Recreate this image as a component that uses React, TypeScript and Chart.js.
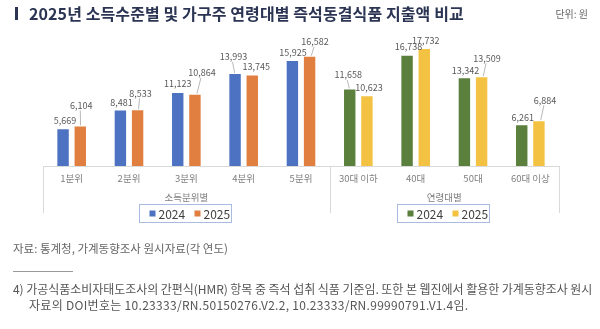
import React, { useEffect, useRef } from "react";
import { Chart, registerables } from "chart.js";

Chart.register(...registerables);

const categories = ["1분위", "2분위", "3분위", "4분위", "5분위", "30대 이하", "40대", "50대", "60대 이상"];
const groupNames = ["소득분위별", "연령대별"];
const groupSizes = [5, 4];
const seriesNames = ["2024", "2025"];
const values2024 = [5669, 8481, 11123, 13993, 15925, 11658, 16738, 13342, 6261];
const values2025 = [6104, 8533, 10864, 13745, 16582, 10623, 17732, 13509, 6884];

// label offsets (dx, dy) relative to bar top center, and whether a leader line is drawn
const labelOff2024: [number, number, boolean][] = [
  [2, -8, false], [1, -7, false], [0, -8, false], [-1.5, -16, true], [0.5, -7.5, false],
  [-1.5, -13.5, true], [1.5, -8, false], [1, -7, false], [1, -7, false],
];
const labelOff2025: [number, number, boolean][] = [
  [1, -20, true], [3, -16, true], [7, -21, true], [4, -8, false], [5.5, -14, true],
  [2, -8, false], [1.5, -8, false], [5.5, -18, true], [6, -20, true],
];

const groupColors = [
  ["#4C72C1", "#E07F3F"],
  ["#5B803D", "#F3C242"],
];

const FONT = '"Noto Sans CJK KR", "Noto Sans", sans-serif';

function colorFor(series: number) {
  return (ctx: any) => {
    const i = ctx.dataIndex ?? 0;
    return i < groupSizes[0] ? groupColors[0][series] : groupColors[1][series];
  };
}

const overlayPlugin = {
  id: "overlay",
  afterDatasetsDraw(chart: any) {
    const { ctx, chartArea, scales } = chart;
    const x = scales.x;
    const bottom = chartArea.bottom;
    const n = categories.length;
    const step = x.getPixelForValue(1) - x.getPixelForValue(0);
    const edges: number[] = [];
    let idx = 0;
    edges.push(x.getPixelForValue(0) - step / 2);
    groupSizes.forEach((s) => {
      idx += s;
      edges.push(x.getPixelForValue(idx - 1) + step / 2);
    });
    ctx.save();
    // baseline
    ctx.strokeStyle = "#d9d9d9";
    ctx.lineWidth = 1;
    ctx.beginPath();
    ctx.moveTo(edges[0], Math.round(bottom) + 0.5);
    ctx.lineTo(edges[edges.length - 1], Math.round(bottom) + 0.5);
    ctx.stroke();
    // separators
    edges.forEach((e) => {
      ctx.beginPath();
      ctx.moveTo(Math.round(e) + 0.5, bottom);
      ctx.lineTo(Math.round(e) + 0.5, bottom + 47);
      ctx.stroke();
    });
    // category labels
    ctx.fillStyle = "#7f7f7f";
    ctx.font = `9.5px ${FONT}`;
    ctx.textAlign = "center";
    ctx.textBaseline = "middle";
    for (let i = 0; i < n; i++) {
      ctx.fillText(categories[i], x.getPixelForValue(i), bottom + 12);
    }
    // group labels
    for (let g = 0; g < groupNames.length; g++) {
      const cx = (edges[g] + edges[g + 1]) / 2;
      ctx.fillText(groupNames[g], cx, bottom + 31);
    }
    // data labels
    ctx.font = `9px ${FONT}`;
    const sets = [values2024, values2025];
    const offs = [labelOff2024, labelOff2025];
    for (let d = 0; d < 2; d++) {
      const meta = chart.getDatasetMeta(d);
      meta.data.forEach((bar: any, i: number) => {
        const [dx, dy, leader] = offs[d][i];
        const lx = bar.x + dx;
        const ly = bar.y + dy;
        const text = sets[d][i].toLocaleString("en-US");
        ctx.fillStyle = "#595959";
        ctx.fillText(text, lx, ly);
        if (leader) {
          ctx.strokeStyle = "#a6a6a6";
          ctx.lineWidth = 0.8;
          ctx.beginPath();
          ctx.moveTo(lx - 1, ly + 5);
          ctx.lineTo(bar.x + Math.max(-1, Math.min(dx * 0.3, 2)), bar.y);
          ctx.stroke();
        }
      });
    }
    // legends
    for (let g = 0; g < groupNames.length; g++) {
      const cx = (edges[g] + edges[g + 1]) / 2 - 1;
      const w = 92;
      const h = 18;
      const bx = Math.round(cx - w / 2) + 0.5;
      const by = Math.round(bottom + 38) + 0.5;
      ctx.strokeStyle = "#a9bbdf";
      ctx.lineWidth = 1;
      ctx.strokeRect(bx, by, w, h);
      ctx.font = `12px ${FONT}`;
      ctx.textAlign = "left";
      ctx.textBaseline = "middle";
      let px = bx + 10;
      for (let s = 0; s < 2; s++) {
        ctx.fillStyle = groupColors[g][s];
        ctx.fillRect(px, by + h / 2 - 3, 6, 6);
        ctx.fillStyle = "#404040";
        ctx.fillText(seriesNames[s], px + 9, by + h / 2 + 0.5);
        px += 45;
      }
    }
    ctx.restore();
  },
};

export default function App() {
  const ref = useRef<HTMLCanvasElement | null>(null);
  useEffect(() => {
    if (!ref.current) return;
    const chart = new Chart(ref.current, {
      type: "bar",
      data: {
        labels: categories,
        datasets: [
          {
            label: seriesNames[0],
            data: values2024,
            backgroundColor: colorFor(0),
            borderColor: "rgba(255,255,255,0.6)",
            borderWidth: 1,
            categoryPercentage: 0.6,
            barPercentage: 0.78,
          },
          {
            label: seriesNames[1],
            data: values2025,
            backgroundColor: colorFor(1),
            borderColor: "rgba(255,255,255,0.6)",
            borderWidth: 1,
            categoryPercentage: 0.6,
            barPercentage: 0.78,
          },
        ],
      },
      options: {
        responsive: false,
        animation: false,
        devicePixelRatio: 1,
        layout: { padding: { left: 43, right: 41, top: 33, bottom: 163 } },
        plugins: { legend: { display: false }, tooltip: { enabled: false } },
        scales: {
          x: { display: false, grid: { display: false } },
          y: { display: false, min: 0, max: 20000 },
        },
      },
      plugins: [overlayPlugin],
    });
    return () => chart.destroy();
  }, []);

  const text: React.CSSProperties = { position: "absolute", fontFamily: FONT, whiteSpace: "nowrap" };
  return (
    <div style={{ position: "absolute", left: 0, top: 0, width: 600, height: 329, background: "#fff", overflow: "hidden" }}>
      <canvas ref={ref} width={600} height={329} style={{ position: "absolute", left: 0, top: 0, width: 600, height: 329 }} />
      <div style={{ position: "absolute", left: 15, top: 7, width: 3, height: 13, background: "#2b3553" }} />
      <div style={{ ...text, left: 29, top: 3, fontSize: 16, fontWeight: 700, color: "#2b3553", lineHeight: "20px", letterSpacing: 0.1 }}>
        2025년 소득수준별 및 가구주 연령대별 즉석동결식품 지출액 비교
      </div>
      <div style={{ ...text, right: 12, top: 7, fontSize: 10, color: "#666", lineHeight: "14px" }}>단위: 원</div>
      <div style={{ ...text, left: 13, top: 240, fontSize: 11.5, color: "#666", lineHeight: "16px" }}>
        자료: 통계청, 가계동향조사 원시자료(각 연도)
      </div>
      <div style={{ position: "absolute", left: 13, top: 271, width: 60, height: 1, background: "#999" }} />
      <div style={{ ...text, left: 13, top: 281, fontSize: 12, color: "#555", lineHeight: "16px", letterSpacing: -0.05 }}>
        4) 가공식품소비자태도조사의 간편식(HMR) 항목 중 즉석 섭취 식품 기준임. 또한 본 웹진에서 활용한 가계동향조사 원시
      </div>
      <div style={{ ...text, left: 29, top: 297, fontSize: 12, color: "#555", lineHeight: "16px", letterSpacing: 0.3 }}>
        자료의 DOI번호는 10.23333/RN.50150276.V2.2, 10.23333/RN.99990791.V1.4임.
      </div>
    </div>
  );
}
